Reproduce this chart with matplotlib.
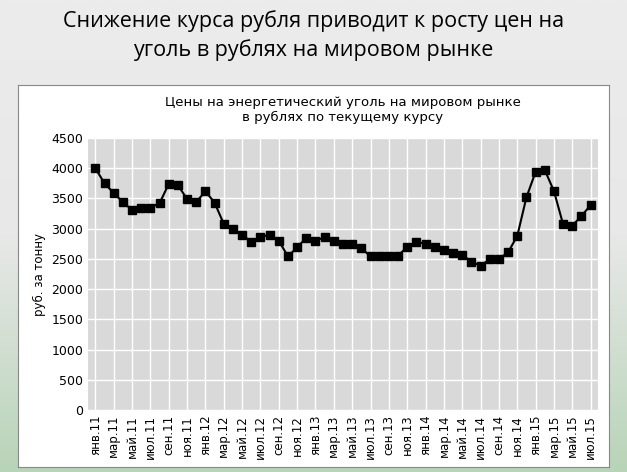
import matplotlib.pyplot as plt
import numpy as np

months = ["янв", "фев", "мар", "апр", "май", "июн", "июл", "авг", "сен", "окт", "ноя", "дек"]
labels = [f"{m}.{y}" for y in range(11, 16) for m in months][:55]
prices = [4000, 3750, 3590, 3440, 3310, 3340, 3350, 3420, 3740, 3720, 3490, 3440,
          3620, 3430, 3080, 2990, 2900, 2780, 2860, 2900, 2800, 2540, 2690, 2850,
          2800, 2860, 2800, 2750, 2750, 2680, 2540, 2540, 2540, 2550, 2700, 2780,
          2750, 2690, 2650, 2600, 2570, 2450, 2390, 2490, 2500, 2610, 2880, 3520,
          3940, 3970, 3620, 3070, 3050, 3210, 3390]

fig = plt.figure(figsize=(6.27, 4.72), dpi=100)
fig.patch.set_facecolor("#e4e4e4")
# slide gradient, greenish at the bottom
bg = fig.add_axes([0, 0, 1, 1], zorder=-2)
grad = np.linspace(0, 1, 200).reshape(-1, 1)
cmap = plt.matplotlib.colors.LinearSegmentedColormap.from_list("g", ["#b8d4b8", "#e8e8e8", "#ececec"])
bg.imshow(grad, extent=[0, 1, 0, 1], aspect="auto", origin="lower", cmap=cmap)
bg.axis("off")

fig.text(0.5, 0.925, "Снижение курса рубля приводит к росту цен на\nуголь в рублях на мировом рынке",
         ha="center", va="center", fontsize=15.5, family="Open Sans", linespacing=1.4)

box = fig.add_axes([18/627, 5/472, 591/627, 382/472], zorder=-1)
box.set_xticks([]); box.set_yticks([])
box.set_facecolor("white")
for s in box.spines.values():
    s.set_color("#888888")

ax = fig.add_axes([88/627, 62/472, 510/627, 272/472])
ax.set_facecolor("#d9d9d9")
x = np.arange(len(prices))
ax.plot(x, prices, color="black", lw=1.5, marker="s", ms=5.5)
ax.set_xlim(-0.8, len(prices) - 0.2)
ax.set_ylim(0, 4500)
ax.set_yticks(range(0, 4501, 500))
ax.set_xticks(x[::2])
ax.set_xticklabels(labels[::2], rotation=90, fontsize=8.5)
ax.tick_params(axis="y", labelsize=9, length=0)
ax.tick_params(axis="x", length=0)
ax.grid(True, color="white", lw=1)
ax.set_axisbelow(True)
for s in ax.spines.values():
    s.set_visible(False)
ax.set_ylabel("руб. за тонну", fontsize=8.5)
ax.set_title("Цены на энергетический уголь на мировом рынке\nв рублях по текущему курсу", fontsize=9.5, pad=12)

fig.savefig("out.png", dpi=100)
